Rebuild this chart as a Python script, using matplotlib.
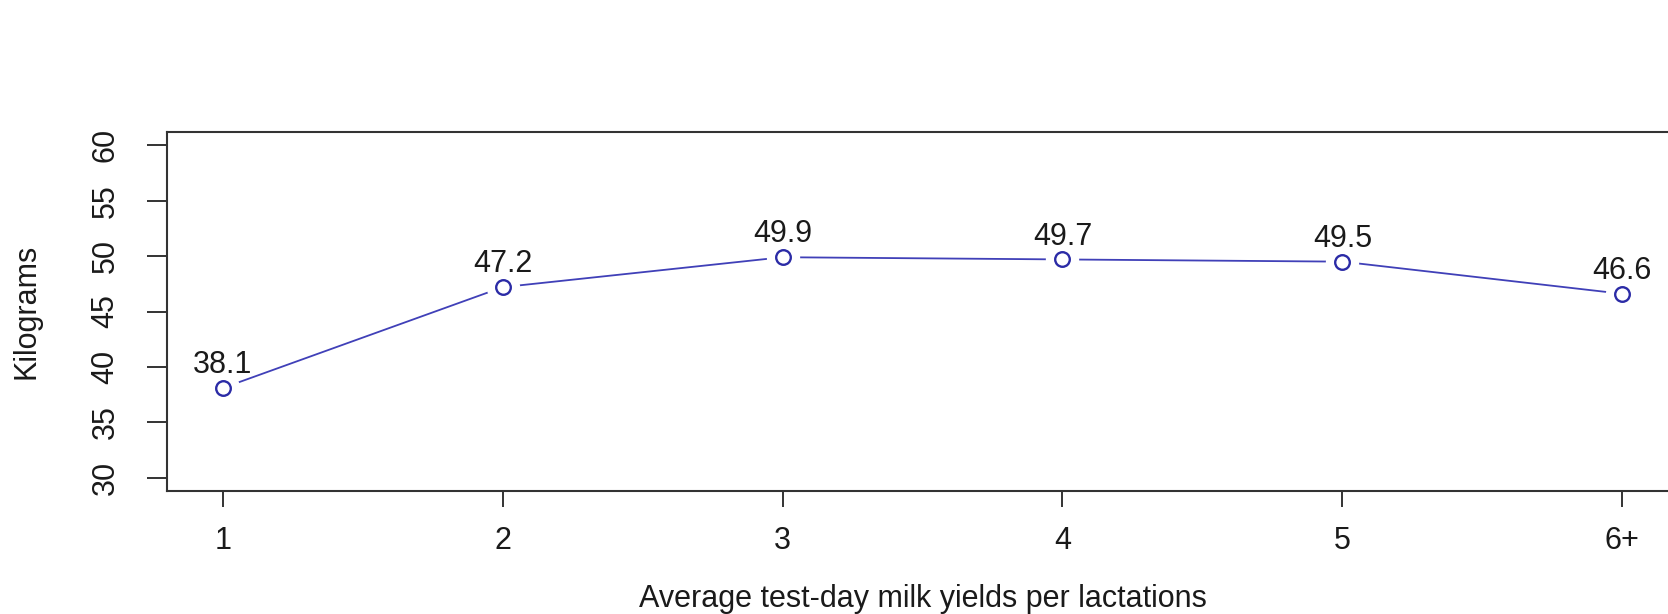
# Average test-day milk yields per lactation (R base-graphics look)

import matplotlib.pyplot as plt

# data
lactations = ['1', '2', '3', '4', '5', '6+']
milk_kg = [38.1, 47.2, 49.9, 49.7, 49.5, 46.6]
y_ticks = [30, 35, 40, 45, 50, 55, 60]

plt.rcParams['font.family'] = ['Liberation Sans', 'DejaVu Sans']
fs = 22

fig = plt.figure(figsize=(16.68, 6.14), dpi=100)
ax = fig.add_axes([0.1001, 0.2003, 0.906, 0.5847])   # right edge runs off the picture like the original

x = list(range(1, len(lactations) + 1))
line_col = '#4040b8'

ax.plot(x, milk_kg, color=line_col, lw=1.3, zorder=2)
# white discs under the points -> gaps in the line like type="b"
ax.plot(x, milk_kg, ls='none', marker='o', ms=24, mfc='white', mec='none', zorder=3)
ax.plot(x, milk_kg, ls='none', marker='o', ms=10.5, mfc='white', mec='#2b2ba6', mew=1.7, zorder=4)

for xi, v in zip(x, milk_kg):
    ax.annotate(f'{v:.1f}', (xi, v), xytext=(0, 16.5), textcoords='offset points',
                ha='center', va='center', fontsize=fs, color='#1a1a1a', zorder=5)

ax.set_xlim(0.8, 6.2)
ax.set_ylim(28.8, 61.2)
ax.set_xticks(x, lactations)
ax.set_yticks(y_ticks)

ax.tick_params(axis='y', length=14.4, width=1.4, pad=19, labelsize=fs,
               labelrotation=90, colors='#333333', labelcolor='#1a1a1a')
ax.tick_params(axis='x', length=11.5, width=1.4, pad=14, labelsize=fs,
               colors='#333333', labelcolor='#1a1a1a')
for lbl in ax.get_yticklabels():
    lbl.set_va('center')

for s in ax.spines.values():
    s.set_linewidth(1.5)
    s.set_color('#333333')

ax.set_xlabel('Average test-day milk yields per lactations', fontsize=fs, color='#1a1a1a')
ax.set_ylabel('Kilograms', fontsize=fs, color='#1a1a1a')
ax.xaxis.set_label_coords(0.5, -0.26)
ax.yaxis.set_label_coords(-0.0827, 0.5)

fig.savefig('out.png', dpi=100)
